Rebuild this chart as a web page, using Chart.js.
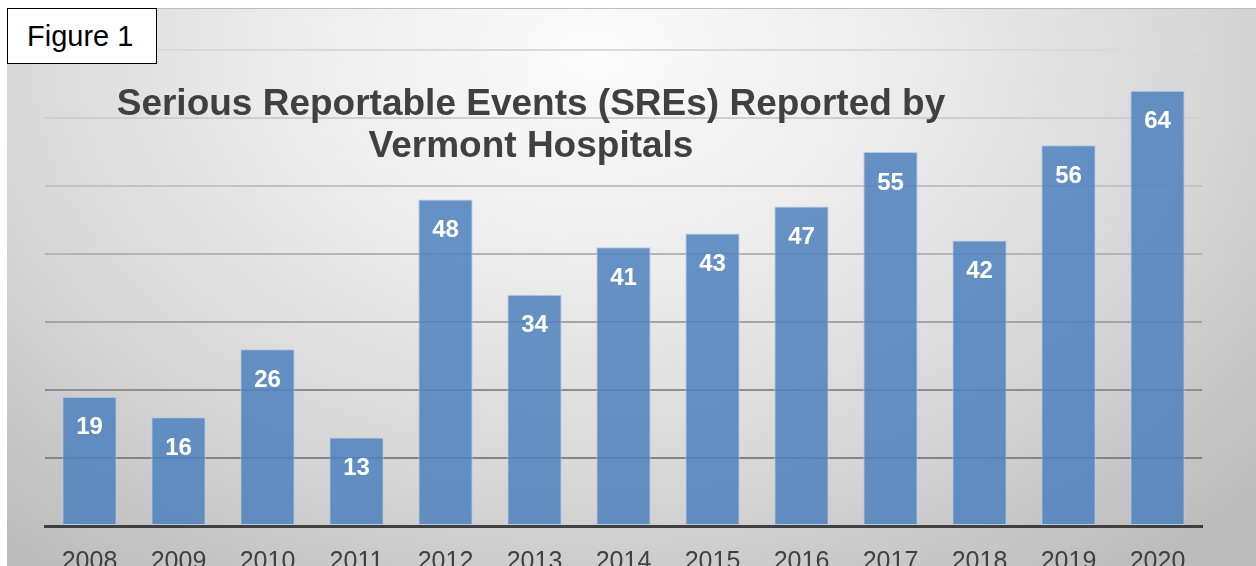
<!DOCTYPE html>
<html>
<head>
<meta charset="utf-8">
<script src="https://cdn.jsdelivr.net/npm/chart.js@4"></script>
<style>
  body { margin: 0; background: #fff; width: 1256px; height: 566px; overflow: hidden; position: relative; font-family: "Liberation Sans", Arial, sans-serif; }
  .panel {
    position: absolute; left: 7px; top: 8px; width: 1249px; height: 558px;
    border-top: 1px solid #bdbdbd; box-sizing: border-box;
    background: radial-gradient(ellipse 72% 115% at 47% 8%, #fbfbfb 0%, #ececec 35%, #d5d5d5 70%, #bcbcbc 100%);
  }
  .fig {
    position: absolute; left: 7px; top: 8px; width: 150px; height: 56px; box-sizing: border-box;
    background: #fff; border: 1px solid #000; font-size: 29px; color: #000;
    padding-left: 19px; line-height: 54px; z-index: 2;
  }
</style>
</head>
<body>
<div class="panel"><canvas id="sreChart"></canvas></div>
<div class="fig">Figure 1</div>
<script>
// data
const years = ["2008", "2009", "2010", "2011", "2012", "2013", "2014", "2015", "2016", "2017", "2018", "2019", "2020"];
const sreCounts = [19, 16, 26, 13, 48, 34, 41, 43, 47, 55, 42, 56, 64];
const titleLines = ["Serious Reportable Events (SREs) Reported by", "Vermont Hospitals"];

// grid gets lighter towards the top
function gridColor(ctx) {
  const v = ctx.tick ? ctx.tick.value : 0;
  const shades = { 10: "#848484", 20: "#8f8f8f", 30: "#a4a4a4", 40: "#b4b4b4", 50: "#c2c2c2", 60: "#cfcfcf", 70: "#dadada" };
  return shades[v] || "rgba(0,0,0,0)";
}

// title drawn over the plot, behind the bars
const titlePlugin = {
  id: "overTitle",
  beforeDatasetsDraw(chart) {
    const c = chart.ctx;
    c.save();
    c.fillStyle = "#404040";
    c.font = "bold 37px 'Liberation Sans', Arial, sans-serif";
    c.textAlign = "center";
    c.textBaseline = "alphabetic";
    c.fillText(titleLines[0], 524, 106);
    c.fillText(titleLines[1], 524, 148);
    c.restore();
  },
};

// value labels inside the bar tops
const valueLabels = {
  id: "valueLabels",
  afterDatasetsDraw(chart) {
    const c = chart.ctx;
    const meta = chart.getDatasetMeta(0);
    c.save();
    c.fillStyle = "#ffffff";
    c.font = "bold 24px 'Liberation Sans', Arial, sans-serif";
    c.textAlign = "center";
    c.textBaseline = "middle";
    meta.data.forEach((bar, i) => {
      c.fillText(sreCounts[i], bar.x, bar.y + 31);
    });
    c.restore();
  },
};

const ctx = document.getElementById("sreChart");

new Chart(ctx, {
  type: "bar",
  data: {
    labels: years,
    datasets: [
      {
        label: "SREs",
        data: sreCounts,
        backgroundColor: "rgba(79,129,189,0.86)",
        borderColor: "#b4cbe8",
        borderWidth: 1,
        borderSkipped: false,
        categoryPercentage: 1,
        barPercentage: 0.61,
      },
    ],
  },
  options: {
    responsive: true,
    maintainAspectRatio: false,
    animation: false,
    layout: { padding: { left: 38, right: 54, top: 41, bottom: 0 } },
    scales: {
      x: {
        grid: { display: false },
        border: { color: "#404040", width: 3 },
        ticks: {
          color: "#404040",
          font: { size: 25, family: "'Liberation Sans', Arial, sans-serif" },
          padding: 13,
          maxRotation: 0,
        },
        afterFit(scale) {
          scale.height = 40;
        },
      },
      y: {
        min: 0,
        max: 70,
        ticks: { display: false, stepSize: 10 },
        grid: { color: gridColor, lineWidth: 2, drawTicks: false },
        border: { display: false },
        afterFit(scale) {
          scale.width = 0;
        },
      },
    },
    plugins: {
      legend: { display: false },
      tooltip: { enabled: false },
    },
  },
  plugins: [titlePlugin, valueLabels],
});
</script>
</body>
</html>
